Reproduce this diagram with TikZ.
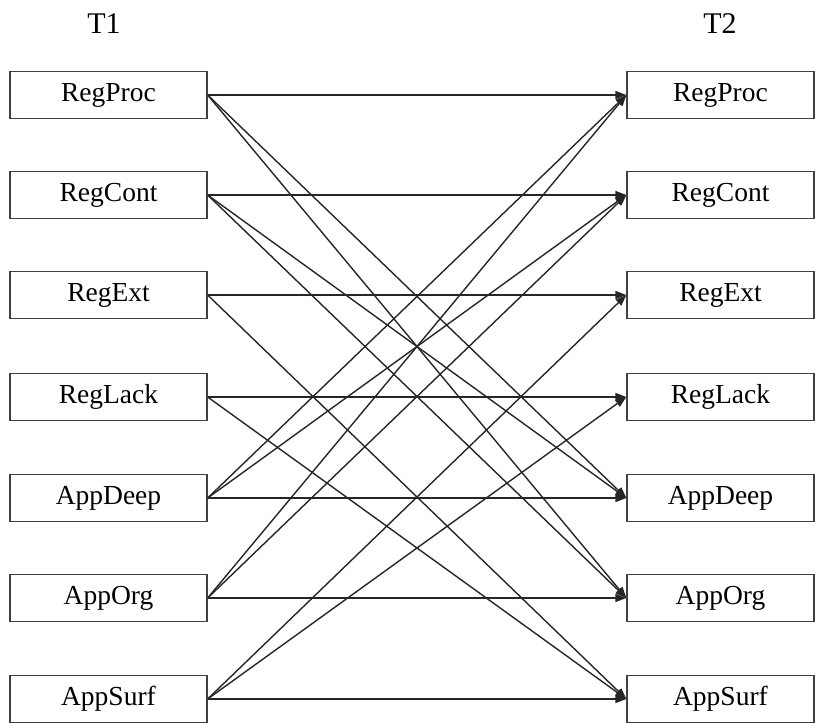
\documentclass[tikz,border=0pt]{standalone}
\usepackage{fontspec}
\setmainfont{Liberation Serif}
\usetikzlibrary{arrows.meta}
\begin{document}
\begin{tikzpicture}[x=1pt,y=-1pt,
  box/.style={draw=black!75, line width=1.3pt, minimum width=197pt, minimum height=47pt, inner sep=0pt, font=\fontsize{27.5}{30}\selectfont, anchor=center},
  lbl/.style={font=\fontsize{30}{33}\selectfont},
  conn/.style={draw=black!85, line width=1.4pt, -{Triangle[length=11pt,width=8pt]}}]
\useasboundingbox (0,0) rectangle (815,723);
\node[lbl] (t1) at (104,24) {T1};
\node[lbl] (t2) at (720,24) {T2};
\foreach \n/\t/\y in {a/RegProc/95, b/RegCont/195, c/RegExt/295, d/RegLack/397, e/AppDeep/498, f/AppOrg/598, g/AppSurf/699} {
  \node[box] (L\n) at (108.5,\y) {\t};
  \node[box, minimum width=187pt] (R\n) at (720.5,\y) {\t};
}
\foreach \n in {a,b,c,d,e,f,g} {
  \draw[conn] (L\n.east) -- (R\n.west);
}
\draw[conn] (La.east) -- (Re.west);
\draw[conn] (La.east) -- (Rf.west);
\draw[conn] (Lb.east) -- (Re.west);
\draw[conn] (Lb.east) -- (Rf.west);
\draw[conn] (Lc.east) -- (Rg.west);
\draw[conn] (Ld.east) -- (Rg.west);
\draw[conn] (Le.east) -- (Ra.west);
\draw[conn] (Le.east) -- (Rb.west);
\draw[conn] (Lf.east) -- (Ra.west);
\draw[conn] (Lf.east) -- (Rb.west);
\draw[conn] (Lg.east) -- (Rc.west);
\draw[conn] (Lg.east) -- (Rd.west);
\end{tikzpicture}
\end{document}
